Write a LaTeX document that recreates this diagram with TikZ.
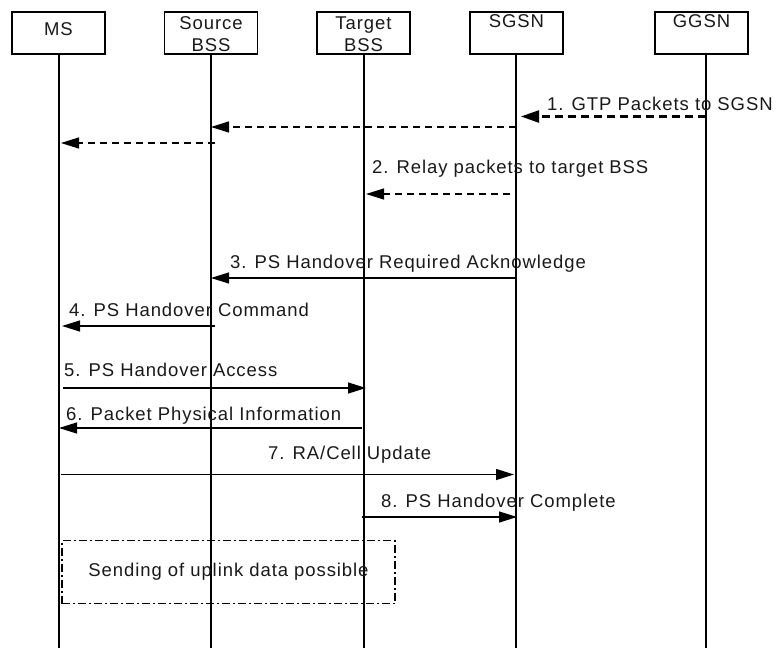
\documentclass[tikz,border=0pt]{standalone}
\usepackage{fontspec}
\setmainfont{Liberation Sans}[LetterSpace=5]
\usetikzlibrary{arrows.meta}
\begin{document}
\begin{tikzpicture}[x=1pt,y=-1pt,
  every node/.style={font=\fontsize{18.5}{22.5}\selectfont, inner sep=0pt, text=black!90},
  entity/.style={draw, line width=1.8pt, minimum width=93pt, minimum height=42pt},
  lifeline/.style={line width=2pt},
  msg/.style={line width=1.2pt, -{Triangle[length=18pt,width=11pt]}},
  dmsg/.style={msg, dash pattern=on 7pt off 5pt},
  tmsg/.style={line width=2.3pt, dash pattern=on 8pt off 5pt, -{Triangle[length=18pt,width=12pt]}},
  lbl/.style={anchor=base west},
  note/.style={draw, line width=1.6pt, dash pattern=on 8pt off 3pt on 2pt off 3pt, minimum width=333pt, minimum height=63pt}
]
\useasboundingbox (0,0) rectangle (776,648);
% entity boxes
\node[entity] (ms)   at (58.5,33.3) {};
\node[entity] (src)  at (211,33.3) {};
\node[entity] (tgt)  at (363.5,33.3) {};
\node[entity] (sgsn) at (516.5,33.3) {};
\node[entity] (ggsn) at (701.5,33.3) {};
\node[anchor=base] (tms)   at (58.5,35) {MS};
\node[anchor=base] (tsrc1) at (211,29) {Source};
\node[anchor=base] (tsrc2) at (211,51.5) {BSS};
\node[anchor=base] (ttgt1) at (363.5,29) {Target};
\node[anchor=base] (ttgt2) at (363.5,51.5) {BSS};
\node[anchor=base] (tsgsn) at (516.5,27.5) {SGSN};
\node[anchor=base] (tggsn) at (701.5,27.5) {GGSN};
% lifeline ends
\coordinate (msE)   at (59,648);
\coordinate (srcE)  at (211,648);
\coordinate (tgtE)  at (364,648);
\coordinate (sgsnE) at (516,648);
\coordinate (ggsnE) at (706,648);
\draw[lifeline] (ms.south -| msE) -- (msE);
\draw[lifeline] (src.south -| srcE) -- (srcE);
\draw[lifeline] (tgt.south -| tgtE) -- (tgtE);
\draw[lifeline] (sgsn.south -| sgsnE) -- (sgsnE);
\draw[lifeline] (ggsn.south -| ggsnE) -- (ggsnE);
% message points
\coordinate (m1a) at (706,116.5); \coordinate (m1b) at (521,116.5);
\coordinate (m1c) at (516,127);   \coordinate (m1d) at (211,127);
\coordinate (m1e) at (215,143);   \coordinate (m1f) at (61,143);
\coordinate (m2a) at (510,194);   \coordinate (m2b) at (366,194);
\coordinate (m3a) at (516,278);   \coordinate (m3b) at (211,278);
\coordinate (m4a) at (215,326);   \coordinate (m4b) at (62,326);
\coordinate (m5a) at (63,388);    \coordinate (m5b) at (366,388);
\coordinate (m6a) at (362,428);   \coordinate (m6b) at (59,428);
\coordinate (m7a) at (61,474.5);  \coordinate (m7b) at (514,474.5);
\coordinate (m8a) at (362,517);   \coordinate (m8b) at (517,517);
\draw[tmsg] (m1a) -- (m1b);
\draw[dmsg] (m1c) -- (m1d);
\draw[dmsg] (m1e) -- (m1f);
\draw[dmsg] (m2a) -- (m2b);
\draw[msg] (m3a) -- (m3b);
\draw[msg] (m4a) -- (m4b);
\draw[msg] (m5a) -- (m5b);
\draw[msg] (m6a) -- (m6b);
\draw[msg] (m7a) -- (m7b);
\draw[msg] (m8a) -- (m8b);
% labels
\node[lbl] (l1) at (547,110) {1. GTP Packets to SGSN};
\node[lbl] (l2) at (372,173) {2. Relay packets to target BSS};
\node[lbl] (l3) at (230,268) {3. PS Handover Required Acknowledge};
\node[lbl] (l4) at (69,316) {4. PS Handover Command};
\node[lbl] (l5) at (64,376) {5. PS Handover Access};
\node[lbl] (l6) at (66,420) {6. Packet Physical Information};
\node[lbl] (l7) at (268,459) {7. RA/Cell Update};
\node[lbl] (l8) at (381,507) {8. PS Handover Complete};
% note
\node[note] (upl) at (228.5,572) {Sending of uplink data possible};
\end{tikzpicture}
\end{document}
